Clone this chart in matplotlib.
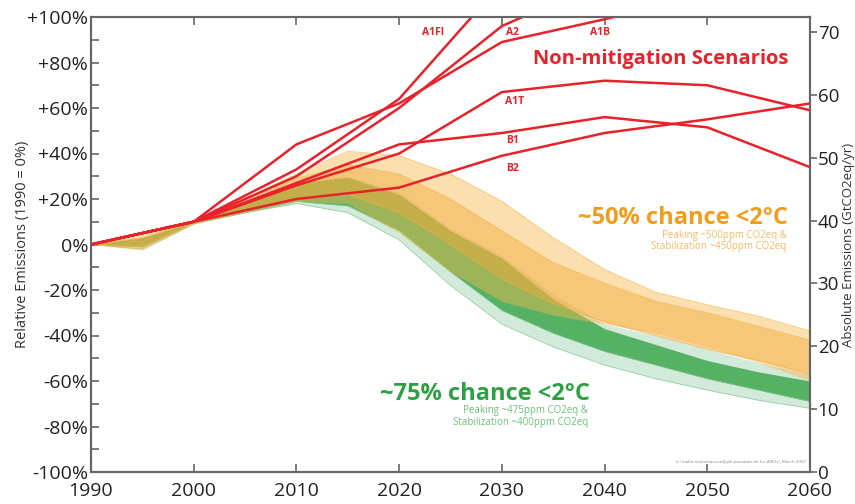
import numpy as np
import matplotlib.pyplot as plt
from matplotlib.ticker import MultipleLocator

plt.rcParams['font.family'] = ['Open Sans', 'DejaVu Sans']

# non-mitigation SRES scenarios, relative to 1990 (%)
decades = [1990, 2000, 2010, 2020, 2030, 2040, 2050, 2060]
a1fi = [0, 10, 33, 64, 115]
a2 = [0, 10, 30, 60, 96, 116]
a1b = [0, 10, 44, 62, 89, 99, 110]
a1t = [0, 10, 26, 40, 67, 72, 70, 59]
b1 = [0, 10, 27, 44, 49, 56, 51.5, 34]
b2 = [0, 10, 20, 25, 39, 49, 55, 62]

# mitigation envelopes (%), read every 5 years
band_years = [1990, 1995, 2000, 2005, 2010, 2015, 2020, 2025, 2030, 2035, 2040, 2045, 2050, 2055, 2060]
orange_outer_hi = [0, 5, 10.5, 20, 31, 41, 39, 31, 19, 3, -11, -21, -26.5, -31.5, -38]
orange_outer_lo = [0, -2.5, 9, 14, 19, 18, 5, -12, -25, -31, -35, -39, -45, -52, -60]
orange_core_hi = [0, 3, 10, 19, 29, 35, 31, 20, 6, -8, -17, -25, -30, -36, -42]
orange_core_lo = [0, -1, 9.5, 15, 20, 22, 14, 0, -15, -26, -34, -40, -46, -51, -57]
green_outer_hi = [0, 3, 10, 19, 28, 30, 23, 7, -5, -22, -35, -40, -46, -52, -57]
green_outer_lo = [0, -2, 9, 14, 18, 14, 2, -18, -35, -45, -53, -59, -64, -68.5, -72]
green_core_hi = [0, 3, 10, 18, 27, 29.5, 22, 6, -6, -24, -37, -44, -51, -56, -60]
green_core_lo = [0, -1, 9.5, 14, 19, 17, 6, -12, -29, -39, -47, -53, -59, -64, -69]

base_1990 = 36.2  # GtCO2eq/yr, 0% on the left axis

RED = '#e8222b'
fig = plt.figure(figsize=(8.55, 5.04), dpi=100)
ax = fig.add_axes([91/855, 32/504, (810-91)/855, (472-17)/504])

ax.fill_between(band_years, green_outer_lo, green_outer_hi, color='#d2eada', lw=0, zorder=1)
ax.fill_between(band_years, green_core_lo, green_core_hi, color='#55b163', lw=0, zorder=2)
ax.fill_between(band_years, orange_outer_lo, orange_outer_hi, color='#f7b84e', alpha=0.45, lw=0, zorder=3)
ax.fill_between(band_years, orange_core_lo, orange_core_hi, color='#f2a838', alpha=0.45, lw=0, zorder=4)
for edge in (orange_outer_hi, orange_core_hi, orange_core_lo):
    ax.plot(band_years, edge, color='#f0b040', lw=0.6, alpha=0.7, zorder=4)
for edge in (green_outer_lo, green_core_lo):
    ax.plot(band_years, edge, color='#8cc898', lw=0.6, alpha=0.8, zorder=2)

for vals in (a1fi, a2, a1b, a1t, b1, b2):
    ax.plot(decades[:len(vals)], vals, color=RED, lw=1.8, zorder=6)

lab = dict(color=RED, fontsize=7.5, fontweight='bold', ha='center', va='center', zorder=7)
ax.text(2023.3, 93, 'A1FI', **lab)
ax.text(2031.0, 93, 'A2', **lab)
ax.text(2039.6, 93, 'A1B', **lab)
ax.text(2031.2, 63, 'A1T', **lab)
ax.text(2031.0, 45.5, 'B1', **lab)
ax.text(2031.0, 33.5, 'B2', **lab)
ax.text(2045.5, 81.5, 'Non-mitigation Scenarios', color=RED, fontsize=14.5,
        fontweight='bold', ha='center', va='center', zorder=7)

ax.text(2057.8, 11.5, '~50% chance <2°C', color='#f39c1c', fontsize=17,
        fontweight='bold', ha='right', va='center', zorder=7)
ax.text(2057.7, 1.5, 'Peaking ~500ppm CO2eq &\nStabilization ~450ppm CO2eq',
        color='#f6b865', fontsize=7, ha='right', va='center', linespacing=1.1, zorder=7)
ax.text(2038.6, -65.5, '~75% chance <2°C', color='#2ea043', fontsize=17,
        fontweight='bold', ha='right', va='center', zorder=7)
ax.text(2038.4, -75.5, 'Peaking ~475ppm CO2eq &\nStabilization ~400ppm CO2eq',
        color='#6cc07a', fontsize=7, ha='right', va='center', linespacing=1.1, zorder=7)
ax.text(2059.6, -95.5, '(c) malte.meinshausen@pik-potsdam.de for WBGU, March 2007',
        color='#888888', fontsize=3.2, ha='right', va='center', zorder=7)

ax.set_xlim(1990, 2060)
ax.set_ylim(-100, 100)
ax.set_xticks(decades)
ax.set_xticklabels([str(d) for d in decades])
yt = list(range(-100, 101, 20))
ax.set_yticks(yt)
ax.set_yticklabels([('+%d%%' % v) if v > 0 else ('%d%%' % v) for v in yt])
ax.yaxis.set_minor_locator(MultipleLocator(10))
ax.tick_params(axis='y', which='major', direction='in', length=6, width=1.2,
               color='#666666', labelsize=14, labelcolor='#222222', pad=2)
ax.tick_params(axis='y', which='minor', direction='in', length=6, width=1.2, color='#666666')
ax.tick_params(axis='x', which='major', direction='in', length=6, width=1.2, top=True,
               color='#666666', labelsize=14, labelcolor='#222222', pad=7)
ax.set_ylabel('Relative Emissions (1990 = 0%)', fontsize=10.5, color='#333333')
ax.yaxis.set_label_coords(-0.085, 0.5)

ax2 = ax.twinx()
ax2.set_ylim(0, 2 * base_1990)
ax2.set_yticks(range(0, 71, 10))
ax2.tick_params(axis='y', direction='out', length=5, width=1.2, color='#666666',
                labelsize=13.5, labelcolor='#222222', pad=0.5)
ax2.set_ylabel('Absolute Emissions (GtCO2eq/yr)', fontsize=9.5, color='#333333')
ax2.yaxis.set_label_coords(1.044, 0.5)

for a in (ax, ax2):
    for s in a.spines.values():
        s.set_color('#666666')
        s.set_linewidth(1.5)

fig.savefig('out.png', dpi=100)
